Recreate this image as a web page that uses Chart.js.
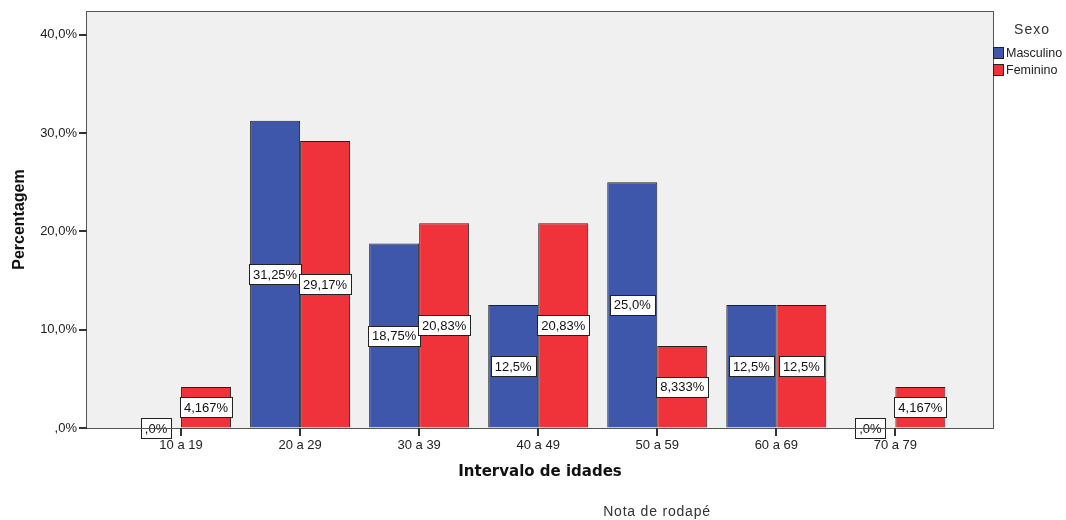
<!DOCTYPE html>
<html>
<head>
<meta charset="utf-8">
<script src="https://cdn.jsdelivr.net/npm/chart.js@4/dist/chart.umd.min.js"></script>
<style>
  html, body { margin: 0; padding: 0; background: #fff; }
  #wrap { width: 1066px; height: 520px; }
</style>
</head>
<body>
<div id="wrap"><canvas id="c" width="1066" height="520"></canvas></div>
<script>
// Age bands and percentage per sex
const categories = ['10 a 19', '20 a 29', '30 a 39', '40 a 49', '50 a 59', '60 a 69', '70 a 79'];
const masculino = [0, 31.25, 18.75, 12.5, 25.0, 12.5, 0];
const feminino = [4.167, 29.17, 20.83, 20.83, 8.333, 12.5, 4.167];
const yTicks = [0, 10, 20, 30, 40];
const seriesNames = ['Masculino', 'Feminino'];
const legendTitle = 'Sexo';
const xTitle = 'Intervalo de idades';
const yTitle = 'Percentagem';
const footnote = 'Nota de rodapé';

const BLUE = '#3e57ab';
const RED = '#f0333b';
const TEXT = '#222';

// Percent format with comma decimals, e.g. 31,25% / 25,0% / ,0%
function fmtPct(v) {
  let s = String(Number(Number(v).toPrecision(4)));
  if (!s.includes('.')) s += '.0';
  s = s.replace('.', ',');
  if (s.startsWith('0,')) s = s.slice(1);
  return s + '%';
}

const plotDecor = {
  id: 'plotDecor',
  beforeDraw(chart) {
    const { ctx, chartArea: a } = chart;
    ctx.save();
    ctx.fillStyle = '#f0f0f0';
    ctx.fillRect(a.left, a.top, a.right - a.left, a.bottom - a.top);
    ctx.restore();
  },
  afterDatasetsDraw(chart) {
    const { ctx } = chart;
    ctx.save();
    ctx.font = '13px "Liberation Sans", Arial, sans-serif';
    ctx.textAlign = 'center';
    ctx.textBaseline = 'middle';
    chart.data.datasets.forEach((ds, i) => {
      const meta = chart.getDatasetMeta(i);
      meta.data.forEach((el, j) => {
        const text = fmtPct(ds.data[j].y);
        const cx = el.x;
        const cy = (el.y + el.base) / 2;
        const w = Math.round(ctx.measureText(text).width + 8);
        const h = 20;
        const x0 = Math.round(cx - w / 2) + 0.5;
        const y0 = Math.round(cy - h / 2) + 0.5;
        ctx.fillStyle = '#fff';
        ctx.fillRect(x0, y0, w, h);
        ctx.strokeStyle = '#222';
        ctx.lineWidth = 1;
        ctx.strokeRect(x0, y0, w, h);
        ctx.fillStyle = '#111';
        ctx.fillText(text, cx, cy + 1);
      });
    });
    ctx.restore();
  },
  afterDraw(chart) {
    const { ctx, chartArea: a } = chart;
    const xs = chart.scales.x;
    const ys = chart.scales.y;
    ctx.save();
    // plot frame
    ctx.strokeStyle = '#555';
    ctx.lineWidth = 1;
    ctx.strokeRect(a.left - 0.5, a.top + 0.5, a.right - a.left + 1, a.bottom - a.top);

    // tick marks outside the frame
    ctx.fillStyle = '#333';
    categories.forEach((_, i) => {
      const px = Math.round(xs.getPixelForValue(i));
      ctx.fillRect(px - 1, a.bottom, 2, 8);
    });
    yTicks.forEach(v => {
      const py = Math.round(ys.getPixelForValue(v));
      ctx.fillRect(a.left - 8, py - 1, 8, 2);
    });

    // legend
    ctx.fillStyle = '#333';
    ctx.textAlign = 'center';
    ctx.textBaseline = 'middle';
    ctx.font = '14px "Liberation Sans", Arial, sans-serif';
    ctx.letterSpacing = '1px';
    ctx.fillText(legendTitle, 1032, 30);
    ctx.letterSpacing = '0px';
    ctx.textAlign = 'left';
    ctx.font = '12.5px "Liberation Sans", Arial, sans-serif';
    chart.data.datasets.forEach((ds, i) => {
      const y = 47 + i * 17;
      ctx.fillStyle = ds.backgroundColor;
      ctx.fillRect(993.5, y + 0.5, 10, 11);
      ctx.strokeStyle = '#222';
      ctx.strokeRect(993.5, y + 0.5, 10, 11);
      ctx.fillStyle = TEXT;
      ctx.fillText(ds.label, 1006, y + 6.5);
    });

    // footnote
    ctx.textAlign = 'center';
    ctx.fillStyle = '#333';
    ctx.font = '14px "Liberation Sans", Arial, sans-serif';
    ctx.letterSpacing = '0.8px';
    ctx.fillText(footnote, 657, 512);
    ctx.restore();
  }
};

const tickFont = { family: '"Liberation Sans", Arial, sans-serif', size: 13 };
const tickGrid = { display: true, offset: false, drawOnChartArea: false, drawTicks: true, tickLength: 7, tickColor: 'rgba(0,0,0,0)', lineWidth: 1 };

new Chart(document.getElementById('c'), {
  type: 'bar',
  data: {
    datasets: [
      {
        label: seriesNames[0],
        data: masculino.map((v, i) => ({ x: i, y: v })),
        backgroundColor: BLUE,
        borderColor: '#222',
        borderWidth: 1,
        categoryPercentage: 0.84,
        barPercentage: 1.0
      },
      {
        label: seriesNames[1],
        data: feminino.map((v, i) => ({ x: i, y: v })),
        backgroundColor: RED,
        borderColor: '#222',
        borderWidth: 1,
        categoryPercentage: 0.84,
        barPercentage: 1.0
      }
    ]
  },
  options: {
    responsive: false,
    animation: false,
    events: [],
    layout: { padding: { top: 11, right: 73, left: 0, bottom: 0 } },
    plugins: {
      legend: { display: false },
      tooltip: { enabled: false }
    },
    scales: {
      x: {
        type: 'linear',
        min: -0.79,
        max: 6.82,
        offset: false,
        afterBuildTicks: s => { s.ticks = categories.map((_, i) => ({ value: i })); },
        afterFit: s => { s.height = 92; },
        ticks: {
          autoSkip: false,
          maxRotation: 0,
          padding: 3,
          font: tickFont,
          color: TEXT,
          callback: v => categories[v] ?? ''
        },
        grid: tickGrid,
        border: { display: false },
        title: {
          display: true,
          text: xTitle,
          color: '#111',
          font: { family: '"DejaVu Sans", Verdana, sans-serif', size: 15, weight: 'bold' },
          padding: { top: 0, bottom: 39 }
        }
      },
      y: {
        type: 'linear',
        min: 0,
        max: 42.4,
        afterBuildTicks: s => { s.ticks = yTicks.map(v => ({ value: v })); },
        afterFit: s => { s.width = 87; },
        ticks: {
          padding: 3,
          font: tickFont,
          color: TEXT,
          callback: v => fmtPct(v)
        },
        grid: tickGrid,
        border: { display: false },
        title: {
          display: true,
          text: yTitle,
          color: '#111',
          font: { family: '"Liberation Sans", Arial, sans-serif', size: 16, weight: 'bold' },
          padding: { top: 10, bottom: 0 }
        }
      }
    }
  },
  plugins: [plotDecor]
});
</script>
</body>
</html>
